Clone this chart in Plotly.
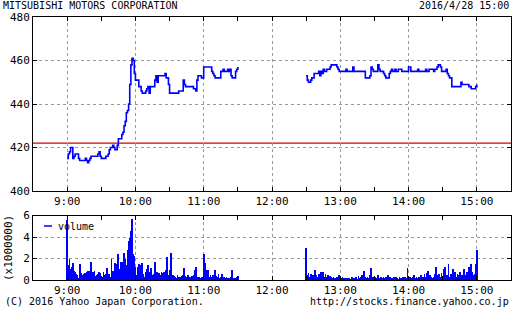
import pandas as pd
import plotly.graph_objects as go

# ---------------- data ----------------
title_text = "MITSUBISHI MOTORS CORPORATION"
date_text = "2016/4/28 15:00"
footer_left = "(C) 2016 Yahoo Japan Corporation."
footer_right = "http://stocks.finance.yahoo.co.jp"

am_start, am_end = "2016-04-28 09:00", "2016-04-28 11:30"
pm_start, pm_end = "2016-04-28 12:30", "2016-04-28 15:00"
prev_close = 422

hour_ticks = ["2016-04-28 %02d:00" % h for h in range(9, 16)]
hour_labels = ["9:00", "10:00", "11:00", "12:00", "13:00", "14:00", "15:00"]

# price, 1-minute, morning session 9:00 - 11:30
price_am = [
    415, 417, 418, 420, 420, 415, 416, 417, 417, 417,
    415, 414, 414, 414, 414, 414, 415, 414, 413, 414,
    415, 416, 416, 416, 416, 416, 416, 417, 418, 416,
    415, 415, 415, 415, 416, 416, 417, 419, 420, 420,
    421, 420, 419, 419, 421, 424, 424, 424, 426, 427,
    430, 432, 436, 437, 440, 449, 458, 461, 460, 454,
    451,
    451, 451, 448, 448, 446, 445, 445, 445, 446, 447,
    448, 445, 448, 448, 448, 448, 451, 453, 450, 453,
    453, 453, 453, 453, 453, 454, 452, 452, 449, 445,
    445, 445, 445, 445, 445, 445, 445, 446, 446, 446,
    446, 451, 449, 448, 448, 448, 448, 448, 448, 448,
    447, 447, 446, 451, 453, 453, 453, 452, 452, 457,
    457, 457, 457, 457, 457, 457, 455, 454, 453, 452,
    452, 452, 452, 452, 455, 455, 456, 455, 455, 455,
    456, 455, 456, 453, 452, 452, 452, 455, 456, 457,
]
# price, afternoon session 12:30 - 15:00
price_pm = [
    453, 451, 450, 450, 451, 452, 452, 454, 454, 454,
    454, 455, 453, 455, 454, 456, 455, 455, 456, 456,
    456, 457, 458, 458, 458, 458, 458, 457, 456, 455,
    455,
    455, 455, 455, 455, 456, 455, 455, 455, 455, 455,
    457, 455, 455, 455, 455, 455, 455, 455, 455, 455,
    455, 452, 452, 452, 452, 453, 457, 456, 455, 455,
    455, 455, 458, 456, 455, 455, 455, 454, 453, 452,
    452, 452, 454, 455, 456, 455, 455, 456, 455, 455,
    456, 456, 456, 455, 455, 455, 455, 455, 455, 457,
    457, 455, 455, 455, 455, 455, 455, 456, 455, 455,
    455, 455, 455, 455, 456, 455, 455, 456, 456, 456,
    456, 455, 456, 456, 457, 458, 458, 457, 455, 455,
    455, 455, 456, 454, 453, 452, 452, 448, 448, 448,
    448, 448, 448, 448, 448, 450, 449, 449, 449, 449,
    449, 449, 448, 448, 447, 447, 447, 447, 448, 449,
]

# volume (x1,000,000 shares) per minute
vol_am = [
    5.6, 1.4, 2.0, 1.1, 1.25, 1.6, 0.85, 0.8, 0.65, 0.5,
    0.2, 1.55, 0.7, 0.4, 0.5, 0.65, 0.7, 0.8, 0.85, 0.6,
    0.9, 1.7, 0.5, 0.8, 0.9, 0.4, 0.5, 0.65, 0.8, 0.7,
    0.2, 0.35, 0.8, 0.5, 0.65, 1.2, 0.35, 0.65, 0.35, 2.0,
    0.85, 0.7, 1.6, 0.65, 1.55, 2.5, 1.1, 1.7, 1.3, 1.7,
    2.55, 2.0, 1.4, 2.8, 3.65, 4.0, 4.6, 5.7, 2.5, 2.3,
    1.25, 0.5, 1.3, 1.5, 1.4, 1.3, 1.6, 0.65, 0.35, 0.8,
    1.1, 1.4, 0.8, 0.5, 1.2, 0.5, 0.65, 1.7, 0.35, 0.8,
    0.65, 0.7, 0.5, 0.8, 0.7, 0.8, 0.65, 1.0, 2.2, 0.5,
    0.95, 2.55, 0.5, 0.5, 0.4, 0.35, 0.2, 0.5, 0.35, 0.35,
    0.2, 0.4, 0.55, 1.2, 0.4, 0.35, 0.5, 0.35, 0.2, 0.35,
    0.4, 0.5, 0.95, 1.3, 0.2, 0.35, 0.35, 0.2, 0.35, 0.3,
    2.5, 1.6, 1.0, 0.65, 1.0, 0.35, 0.5, 0.35, 0.5, 0.2,
    0.95, 0.4, 0.35, 0.65, 0.2, 0.35, 0.6, 0.2, 0.35, 0.2,
    0.35, 0.2, 0.25, 0.2, 0.35, 1.0, 0.2, 0.25, 0.2, 0.35,
    0.4,
]
vol_pm = [
    3.0, 0.5, 0.7, 0.35, 0.65, 0.35, 0.5, 0.2, 0.95, 0.5,
    0.35, 0.65, 0.2, 0.75, 0.5, 0.75, 0.35, 0.65, 0.35, 0.5,
    0.35, 0.4, 0.35, 0.2, 0.35, 0.2, 0.2, 0.35, 0.25, 0.5,
    0.2, 0.2, 0.35, 0.2, 0.1, 0.2, 0.1, 0.2, 0.2, 0.1,
    0.35, 0.2, 0.1, 0.2, 0.3, 0.15, 0.4, 0.2, 0.35, 0.5,
    0.3, 0.9, 0.35, 0.2, 0.3, 0.2, 0.5, 1.15, 0.2, 0.3,
    0.2, 0.35, 0.2, 0.5, 0.25, 0.2, 0.35, 0.2, 0.3, 0.2,
    0.35, 0.2, 0.5, 0.2, 0.3, 0.2, 0.2, 0.3, 0.2, 0.35,
    0.2, 0.15, 0.3, 0.2, 0.2, 0.3, 0.2, 0.3, 0.2, 1.15,
    0.2, 0.35, 0.25, 0.2, 0.35, 0.5, 0.2, 0.3, 0.2, 0.35,
    0.2, 0.5, 0.35, 0.3, 0.6, 0.35, 0.7, 0.85, 0.3, 0.5,
    0.35, 0.2, 0.35, 0.6, 1.25, 0.3, 0.5, 0.6, 0.35, 0.7,
    0.35, 1.1, 1.25, 0.35, 0.5, 1.5, 0.35, 0.65, 0.5, 1.1,
    0.8, 0.8, 0.35, 0.65, 0.5, 0.8, 0.35, 0.5, 0.35, 1.1,
    0.5, 0.8, 0.35, 1.25, 0.65, 1.55, 0.8, 0.5, 0.65, 1.5,
    2.8,
]

# ---------------- figure ----------------
t_am = list(pd.date_range(am_start, am_end, freq="1min"))
t_pm = list(pd.date_range(pm_start, pm_end, freq="1min"))

BLUE = "#0000ff"
MONO = "DejaVu Sans Mono"
W, H = 512, 310
ML, MR, MT, MB = 33, 1, 17, 30
PW, PH = W - ML - MR, H - MT - MB


def px(x):
    return (x - ML) / PW


def py(y):
    return (H - MB - y) / PH


fig = go.Figure()
fig.add_trace(go.Scatter(
    x=t_am + [None] + t_pm, y=price_am + [None] + price_pm,
    mode="lines", line=dict(color=BLUE, width=1.6, shape="hv"),
    connectgaps=False, showlegend=False, xaxis="x", yaxis="y"))
fig.add_trace(go.Bar(
    x=t_am + t_pm, y=vol_am + vol_pm, width=42000,
    marker=dict(color=BLUE, line=dict(width=0)),
    showlegend=False, xaxis="x2", yaxis="y2"))

xrange = ["2016-04-28 08:30", "2016-04-28 15:30"]
common_x = dict(
    range=xrange, type="date", tickvals=hour_ticks, ticktext=hour_labels,
    ticks="inside", ticklen=4, tickcolor="black", showline=True,
    linecolor="black", linewidth=1, mirror="ticks", showgrid=True,
    gridcolor="#999999", griddash="dot", gridwidth=1, zeroline=False,
    tickfont=dict(family=MONO, size=11, color="black"),
    minor=dict(dtick=1800000, ticks="inside", ticklen=4, tickcolor="black",
               showgrid=False, tick0="2016-04-28 08:30"),
)
fig.update_layout(
    width=W, height=H, margin=dict(l=ML, r=MR, t=MT, b=MB),
    paper_bgcolor="white", plot_bgcolor="white", bargap=0,
    xaxis=dict(domain=[0, 1], anchor="y", **common_x),
    xaxis2=dict(domain=[0, 1], anchor="y2", **common_x),
    yaxis=dict(domain=[py(191), 1], anchor="x", range=[400, 480], dtick=20,
               ticks="inside", ticklen=4, tickcolor="black", showline=True,
               linecolor="black", linewidth=1, mirror="ticks", showgrid=True,
               gridcolor="#999999", griddash="dot", zeroline=False,
               tickfont=dict(family=MONO, size=11, color="black")),
    yaxis2=dict(domain=[0, py(215.5)], anchor="x2", range=[0, 6], dtick=2,
                ticks="inside", ticklen=4, tickcolor="black", showline=True,
                linecolor="black", linewidth=1, mirror="ticks", showgrid=True,
                gridcolor="#999999", griddash="dot", zeroline=False,
                tickfont=dict(family=MONO, size=11, color="black")),
    shapes=[
        dict(type="line", xref="x domain", yref="y", x0=0, x1=1,
             y0=prev_close, y1=prev_close, line=dict(color="#d40000", width=1.3),
             layer="below"),
        dict(type="line", xref="paper", yref="paper", x0=px(44), x1=px(52),
             y0=py(226), y1=py(226), line=dict(color=BLUE, width=1.5)),
    ],
    annotations=[
        dict(text=title_text, xref="paper", yref="paper", x=px(1), y=py(6),
             xanchor="left", yanchor="middle", showarrow=False,
             font=dict(family=MONO, size=10, color="black")),
        dict(text=date_text, xref="paper", yref="paper", x=px(511), y=py(6),
             xanchor="right", yanchor="middle", showarrow=False,
             font=dict(family=MONO, size=10, color="black")),
        dict(text=footer_left, xref="paper", yref="paper", x=px(3), y=py(301),
             xanchor="left", yanchor="middle", showarrow=False,
             font=dict(family=MONO, size=10, color="black")),
        dict(text=footer_right, xref="paper", yref="paper", x=px(511), y=py(301),
             xanchor="right", yanchor="middle", showarrow=False,
             font=dict(family=MONO, size=10, color="black")),
        dict(text="(x1000000)", xref="paper", yref="paper", x=px(8), y=py(248),
             xanchor="center", yanchor="middle", showarrow=False, textangle=-90,
             font=dict(family=MONO, size=11, color="black")),
        dict(text="volume", xref="paper", yref="paper", x=px(56), y=py(226),
             xanchor="left", yanchor="middle", showarrow=False,
             font=dict(family=MONO, size=10, color="black")),
    ],
)

fig.write_html("out.html")
